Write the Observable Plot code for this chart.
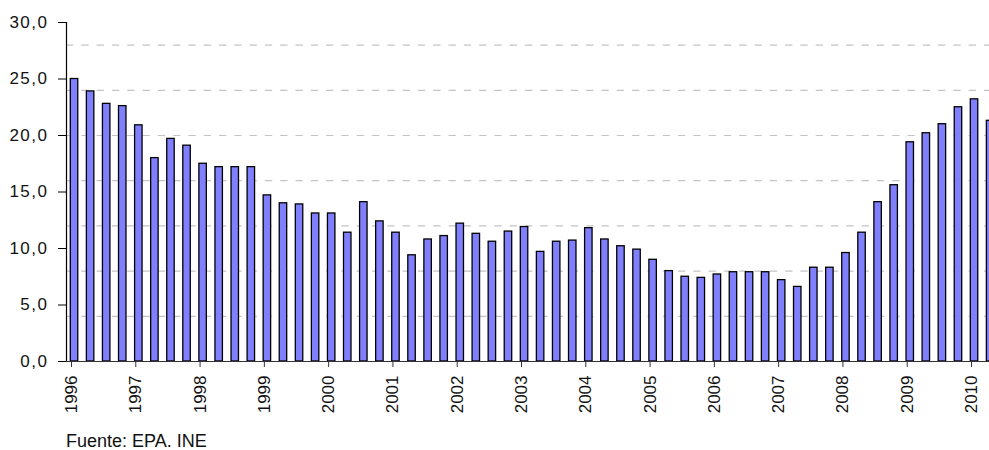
<!DOCTYPE html>
<html>
<head>
<meta charset="utf-8">
<script src="https://cdn.jsdelivr.net/npm/d3@7"></script>
<script src="https://cdn.jsdelivr.net/npm/@observablehq/plot@0.6"></script>
<style>
  html, body { margin: 0; padding: 0; background: white; }
  #wrap { position: relative; width: 989px; height: 450px; overflow: hidden; background: white; }
  #chart { position: absolute; left: 0; top: 0; width: 989px; overflow: hidden; }
  #chart svg text { font-size: 17px !important; font-family: "Liberation Sans", Arial, sans-serif !important; }
  #chart g[aria-label="y-axis tick label"] text { letter-spacing: 1.5px; }
  #foot { position: absolute; left: 66px; top: 431px; font-family: "Liberation Sans", Arial, sans-serif; font-size: 18px; line-height: 20px; color: #111; }
</style>
</head>
<body>
<div id="wrap">
  <div id="chart"></div>
  <div id="foot"></div>
</div>
<script>
// Years shown on the x axis
const years = [1996, 1997, 1998, 1999, 2000, 2001, 2002, 2003, 2004, 2005, 2006, 2007, 2008, 2009, 2010];
// Quarterly values, 1996 Q1 – 2010 Q2
const rates = [
  25.0, 23.9, 22.8, 22.6,
  20.9, 18.0, 19.7, 19.1,
  17.5, 17.2, 17.2, 17.2,
  14.7, 14.0, 13.9, 13.1,
  13.1, 11.4, 14.1, 12.4,
  11.4, 9.4, 10.8, 11.1,
  12.2, 11.3, 10.6, 11.5,
  11.9, 9.7, 10.6, 10.7,
  11.8, 10.8, 10.2, 9.9,
  9.0, 8.0, 7.5, 7.4,
  7.7, 7.9, 7.9, 7.9,
  7.2, 6.6, 8.3, 8.3,
  9.6, 11.4, 14.1, 15.6,
  19.4, 20.2, 21.0, 22.5,
  23.2, 21.3
];
const yTicks = [0, 5, 10, 15, 20, 25, 30];
const gridValues = [4, 8, 12, 16, 20, 24, 28];
const footer = "Fuente: EPA. INE";

const data = rates.map((v, i) => ({ t0: years[0] + i / 4, t1: years[0] + (i + 1) / 4, v }));
const fmt = d => d.toFixed(1).replace(".", ",");

const chart = Plot.plot({
  width: 989, height: 420, marginLeft: 66, marginTop: 22, marginBottom: 59, marginRight: 0,
  style: { fontFamily: "'Liberation Sans', Arial, sans-serif", fontSize: "17px", color: "#111", background: "white" },
  x: { type: "linear", domain: [1996, 2010.5], range: [66, 66 + 58 * (900 / 14 / 4)] },
  y: { domain: [0, 30] },
  marks: [
    Plot.ruleY(gridValues, { stroke: "#c4c4c4", strokeWidth: 1.2, strokeDasharray: "7.3,8" }),
    Plot.rectY(data, { x1: "t0", x2: "t1", y: "v", fill: "#8080ff", stroke: "#000", strokeWidth: 1.3, insetLeft: 4.3, insetRight: 4.3 }),
    Plot.ruleY([0], { stroke: "#333", strokeWidth: 1.2 }),
    Plot.ruleX([1996], { y1: 0, y2: 30, stroke: "#000", strokeWidth: 1.2 }),
    Plot.axisY({ ticks: yTicks, tickFormat: fmt, tickSize: 8, tickPadding: 10, fontSize: "17px", label: null, stroke: "#000" }),
    Plot.axisX({ ticks: years, tickFormat: d => String(d), tickSize: 6, tickPadding: 8, tickRotate: -90, fontSize: "17px", label: null, dx: 5, stroke: "#333" })
  ]
});
document.getElementById("chart").appendChild(chart);
document.getElementById("foot").textContent = footer;
</script>
</body>
</html>
